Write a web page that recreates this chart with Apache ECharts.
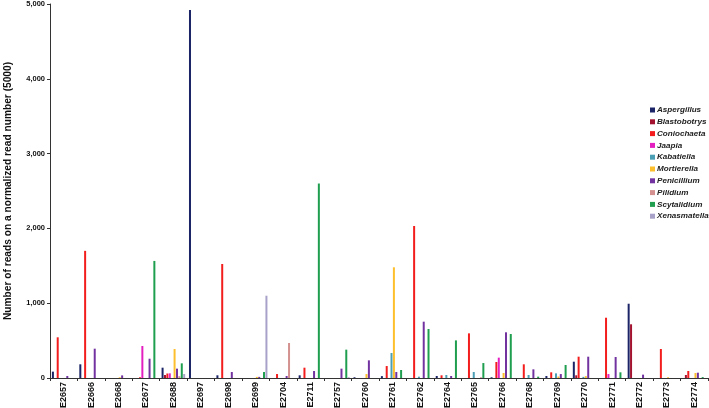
<!DOCTYPE html>
<html>
<head>
<meta charset="utf-8">
<script src="https://cdn.jsdelivr.net/npm/echarts@6/dist/echarts.min.js"></script>
<style>
html, body { margin: 0; padding: 0; background: #fff; }
#chart { width: 709px; height: 408px; }
</style>
</head>
<body>
<div id="chart"></div>
<script>
var categories = ['E2657', 'E2666', 'E2668', 'E2677', 'E2688', 'E2697', 'E2698', 'E2699', 'E2704', 'E2711',
    'E2757', 'E2760', 'E2761', 'E2762', 'E2764', 'E2765', 'E2766', 'E2768', 'E2769', 'E2770',
    'E2771', 'E2772', 'E2773', 'E2774'];

var genera = ['Aspergillus', 'Blastobotrys', 'Coniochaeta', 'Jaapia', 'Kabatiella',
    'Mortierella', 'Penicillium', 'Pilidium', 'Scytalidium', 'Xenasmatella'];

var colors = ['#1b2466', '#a3122e', '#f31d1d', '#e41fc0', '#4a9fb5',
    '#fdbf2d', '#7233a0', '#d4918f', '#1f9e4f', '#a8a2c8'];

// one array per genus, one value per sample (categories order)
var aspergillus  = [85, 183, 0, 0, 138, 4920, 36, 0, 0, 36, 0, 10, 25, 0, 27, 0, 10, 0, 27, 218, 0, 993, 0, 0];
var blastobotrys = [0, 0, 0, 0, 40, 0, 0, 0, 0, 0, 0, 0, 0, 0, 0, 0, 0, 0, 0, 36, 0, 718, 0, 40];
var coniochaeta  = [544, 1700, 0, 10, 60, 0, 1524, 0, 53, 138, 0, 0, 160, 2032, 36, 597, 214, 183, 76, 285, 806, 0, 388, 94];
var jaapia       = [0, 0, 0, 428, 62, 0, 0, 0, 0, 0, 0, 0, 0, 0, 0, 0, 272, 0, 0, 0, 53, 0, 0, 0];
var kabatiella   = [0, 0, 0, 0, 0, 0, 0, 0, 0, 0, 0, 0, 334, 18, 40, 80, 0, 40, 62, 15, 0, 0, 0, 0];
var mortierella  = [0, 0, 10, 0, 388, 0, 0, 15, 0, 0, 0, 53, 1480, 0, 0, 0, 67, 0, 20, 25, 0, 0, 10, 67];
var penicillium  = [27, 392, 35, 258, 125, 0, 80, 15, 27, 94, 125, 236, 80, 753, 27, 0, 611, 116, 53, 285, 281, 45, 0, 71];
var pilidium     = [0, 0, 0, 0, 25, 0, 0, 0, 468, 0, 0, 0, 0, 0, 0, 10, 0, 0, 0, 0, 0, 0, 0, 0];
var scytalidium  = [0, 0, 0, 1565, 196, 0, 0, 80, 0, 2600, 379, 0, 107, 655, 503, 200, 588, 18, 174, 0, 76, 0, 0, 12];
var xenasmatella = [0, 0, 0, 0, 53, 0, 0, 1100, 0, 0, 10, 0, 0, 0, 0, 0, 0, 0, 0, 0, 0, 0, 0, 0];

var values = [aspergillus, blastobotrys, coniochaeta, jaapia, kabatiella,
    mortierella, penicillium, pilidium, scytalidium, xenasmatella];

var font = 'Liberation Sans, Arial, sans-serif';
var myChart = echarts.init(document.getElementById('chart'));

var series = [];
for (var i = 0; i < genera.length; i++) {
    series.push({
        name: genera[i],
        type: 'bar',
        data: values[i],
        barWidth: 2,
        barGap: '20%',
        itemStyle: { color: colors[i] }
    });
}

var option = {
    animation: false,
    backgroundColor: '#fff',
    grid: { left: 50, right: 1, top: 4, bottom: 30, outerBoundsMode: 'none' },
    legend: {
        orient: 'vertical',
        left: 645,
        top: 101,
        itemWidth: 5,
        itemHeight: 5,
        itemGap: 3.8,
        icon: 'rect',
        textStyle: { fontFamily: font, fontSize: 8.1, fontWeight: 'bold', fontStyle: 'italic', color: '#222', padding: [0, 0, 0, -3] },
        data: genera
    },
    xAxis: {
        type: 'category',
        data: categories,
        axisLine: { lineStyle: { color: '#333', width: 1 } },
        axisTick: { show: true, length: 3, lineStyle: { color: '#333' } },
        axisLabel: { rotate: 90, fontFamily: font, fontSize: 9, fontWeight: 'bold', color: '#111', margin: 4, interval: 0 }
    },
    yAxis: {
        type: 'value',
        min: 0,
        max: 5000,
        interval: 1000,
        name: 'Number of reads on a normalized read number (5000)',
        nameLocation: 'middle',
        nameRotate: 90,
        nameGap: 37,
        nameTextStyle: { fontFamily: font, fontSize: 10.2, fontWeight: 'bold', color: '#111' },
        axisLine: { show: true, lineStyle: { color: '#333', width: 1 } },
        axisTick: { show: true, length: 3, lineStyle: { color: '#333' } },
        splitLine: { show: false },
        axisLabel: {
            fontFamily: font, fontSize: 7.5, fontWeight: 'bold', color: '#111', margin: 5,
            formatter: function (v) { return v.toLocaleString('en-US'); }
        }
    },
    series: series
};

myChart.setOption(option);
</script>
</body>
</html>
